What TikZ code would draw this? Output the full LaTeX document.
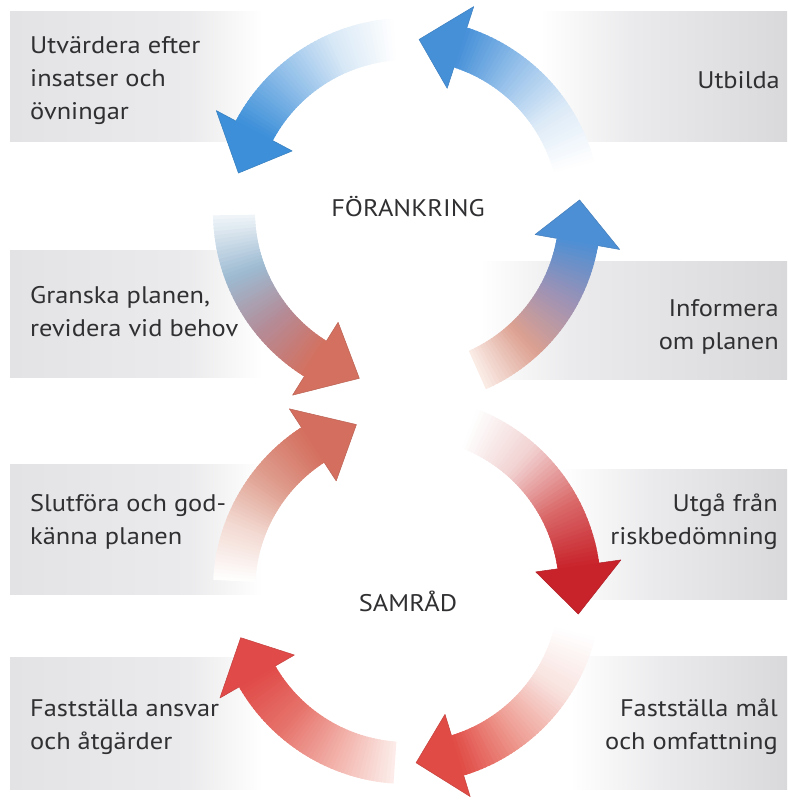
\documentclass[tikz,border=0pt]{standalone}
\usepackage{fontspec}
\setmainfont{PT Sans}[FakeStretch=1.1]
\usetikzlibrary{calc}
\definecolor{txt}{HTML}{303032}
\definecolor{boxL}{HTML}{E3E3E5}
\definecolor{boxM}{HTML}{EBEBED}
\definecolor{boxR}{HTML}{D9D9DC}
% upper ring colours
\definecolor{inA}{HTML}{FBEDE8}\definecolor{inB}{HTML}{DCA090}\definecolor{inC}{HTML}{9C92B6}\definecolor{inD}{HTML}{4D8FD4}
\definecolor{ubA}{HTML}{FFFFFF}\definecolor{ubB}{HTML}{DCEAF7}\definecolor{ubC}{HTML}{95C0EA}\definecolor{ubD}{HTML}{4690D8}
\definecolor{uvA}{HTML}{FFFFFF}\definecolor{uvB}{HTML}{D8E8F6}\definecolor{uvC}{HTML}{8CBCE8}\definecolor{uvD}{HTML}{3C8FD8}
\definecolor{grA}{HTML}{F2F6FA}\definecolor{grB}{HTML}{9DBBD2}\definecolor{grC}{HTML}{B48C98}\definecolor{grD}{HTML}{D4705F}
% lower ring colours
\definecolor{ugA}{HTML}{FFFFFF}\definecolor{ugB}{HTML}{F2D2D2}\definecolor{ugC}{HTML}{DA6A6A}\definecolor{ugD}{HTML}{C8232B}
\definecolor{mlA}{HTML}{FFFFFF}\definecolor{mlB}{HTML}{F8E2DE}\definecolor{mlC}{HTML}{EE9C92}\definecolor{mlD}{HTML}{E04B45}
\definecolor{anA}{HTML}{FCEDEA}\definecolor{anB}{HTML}{F2B2AA}\definecolor{anC}{HTML}{E6746C}\definecolor{anD}{HTML}{E04A48}
\definecolor{slA}{HTML}{FFFFFF}\definecolor{slB}{HTML}{F2D8D0}\definecolor{slC}{HTML}{DE9C8C}\definecolor{slD}{HTML}{D46F5F}

\def\Rm{173}\def\Ro{194}\def\Ri{152}\def\Ho{216}\def\Hi{130}

% #1,#2 centre; #3 tail angle; #4 head base angle; #5 tip angle; #6-#9 colour stops
\newcommand\ringarrow[9]{%
  \foreach \i in {0,...,47}{%
    \pgfmathsetmacro\angA{(#3)+((#4)-(#3))*\i/48}%
    \pgfmathsetmacro\angB{(#3)+((#4)-(#3))*(\i+1.6)/48}%
    \pgfmathsetmacro\sss{3*(\i+0.5)/48}%
    \pgfmathtruncatemacro\seg{min(2,floor(\sss))}%
    \pgfmathtruncatemacro\uu{100*(\sss-\seg)}%
    \ifcase\seg\colorlet{segc}{#7!\uu!#6}\or\colorlet{segc}{#8!\uu!#7}\else\colorlet{segc}{#9!\uu!#8}\fi
    \fill[segc] ([shift={(#1,#2)}]\angA:\Ro) arc[start angle=\angA,end angle=\angB,radius=\Ro]
      -- ([shift={(#1,#2)}]\angB:\Ri) arc[start angle=\angB,end angle=\angA,radius=\Ri] -- cycle;
  }%
  \fill[#9] ([shift={(#1,#2)}]#4:\Ho) -- ([shift={(#1,#2)}]#5:\Rm) -- ([shift={(#1,#2)}]#4:\Hi) -- cycle;
  \draw[#9!88!black, line width=0.5pt, line join=round]
    ([shift={(#1,#2)}]#4:\Ro) -- ([shift={(#1,#2)}]#4:\Ho) -- ([shift={(#1,#2)}]#5:\Rm)
    -- ([shift={(#1,#2)}]#4:\Hi) -- ([shift={(#1,#2)}]#4:\Ri);
}
\newcommand\leftbox[2]{%
  \shade[left color=boxL,right color=boxM] (10,#1) rectangle (191,#2);
  \shade[left color=boxM,right color=white] (190,#1) rectangle (262,#2);
}
\newcommand\rightbox[3]{%
  \shade[left color=white,right color=boxM] (#1,#2) rectangle (#1+90,#3);
  \shade[left color=boxM,right color=boxR] (#1+89,#2) rectangle (787,#3);
}
\tikzset{
  lab/.style={font=\fontsize{24}{33}\selectfont, text=txt, inner sep=0pt},
  llab/.style={lab, align=left, anchor=base west},
  rlab/.style={lab, align=right, anchor=base east},
  clab/.style={font=\fontsize{24}{30}\selectfont, text=txt, inner sep=0pt, anchor=base}
}
\begin{document}
\begin{tikzpicture}[x=1pt,y=1pt]
\useasboundingbox (0,0) rectangle (787,803);
% boxes
\leftbox{661}{791}
\leftbox{425}{552}
\leftbox{208}{338}
\leftbox{13}{145}
\rightbox{540}{661}{791}
\rightbox{480}{423}{541}
\rightbox{560}{203}{333}
\rightbox{570}{13}{146}
% upper ring (counter-clockwise)
\ringarrow{407}{591}{-66}{-10}{4}{inA}{inB}{inC}{inD}
\ringarrow{407}{591}{15}{72}{86}{ubA}{ubB}{ubC}{ubD}
\ringarrow{407}{591}{94}{152}{167}{uvA}{uvB}{uvC}{uvD}
\ringarrow{407}{591}{181}{238}{254}{grA}{grB}{grC}{grD}
% lower ring (clockwise)
\ringarrow{407}{213}{69}{8}{-8}{ugA}{ugB}{ugC}{ugD}
\ringarrow{407}{213}{-14}{-73}{-87}{mlA}{mlB}{mlC}{mlD}
\ringarrow{407}{213}{-94}{-150}{-164}{anA}{anB}{anC}{anD}
\ringarrow{407}{213}{-183}{-237}{-253}{slA}{slB}{slC}{slD}
% labels (anchor = baseline of the last line)
\node[llab] (utv) at (30,683) {Utvärdera efter\\insatser och\\övningar};
\node[llab] (gra) at (30,466) {Granska planen,\\revidera vid behov};
\node[llab] (slu) at (30,258) {Slutföra och god-\\känna planen};
\node[llab] (fan) at (30,53) {Fastställa ansvar\\och åtgärder};
\node[rlab] (utb) at (780,714) {Utbilda};
\node[rlab] (inf) at (779,453) {Informera\\om planen};
\node[rlab] (utg) at (778,258) {Utgå från\\riskbedömning};
\node[rlab] (fml) at (778,53) {Fastställa mål\\och omfattning};
\node[clab] (for) at (408,586) {FÖRANKRING};
\node[clab] (sam) at (408,191) {SAMRÅD};
\end{tikzpicture}
\end{document}
